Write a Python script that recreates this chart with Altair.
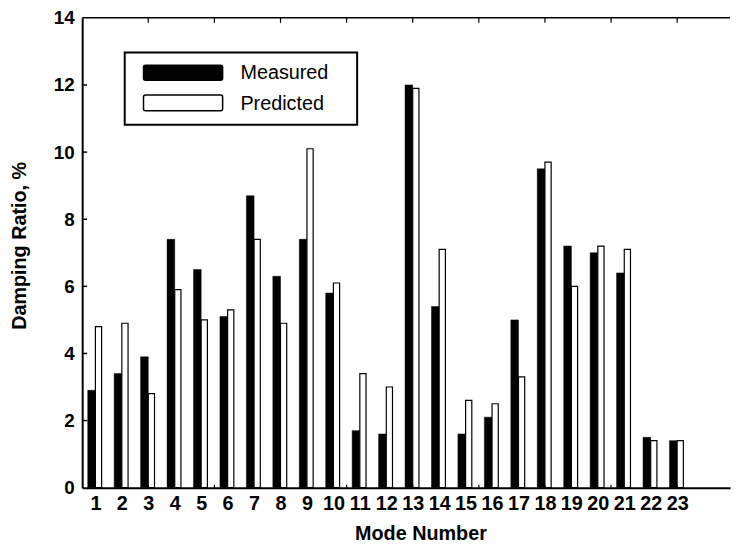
import altair as alt
import pandas as pd

# ---- data ----
modes = list(range(1, 24))
measured = [2.9, 3.4, 3.9, 7.4, 6.5, 5.1, 8.7, 6.3, 7.4, 5.8, 1.7, 1.6, 12.0,
            5.4, 1.6, 2.1, 5.0, 9.5, 7.2, 7.0, 6.4, 1.5, 1.4]
predicted = [4.8, 4.9, 2.8, 5.9, 5.0, 5.3, 7.4, 4.9, 10.1, 6.1, 3.4, 3.0, 11.9,
             7.1, 2.6, 2.5, 3.3, 9.7, 6.0, 7.2, 7.1, 1.4, 1.4]
series_names = ["Measured", "Predicted"]
y_tick_values = [0, 2, 4, 6, 8, 10, 12, 14]
y_inner_ticks = [2, 4, 6, 8, 10, 12]
x_minor_ticks = [3.0, 5.5, 8.0, 10.5, 13.0, 15.5, 18.0, 20.5, 23.0]
x_domain = [0.5, 25.0]
y_domain = [0, 14]

W, H = 655, 475
FONT = "Liberation Sans"

df = pd.DataFrame({"mode": modes, "Measured": measured, "Predicted": predicted})

x_scale = alt.Scale(domain=x_domain, nice=False, zero=False)
y_scale = alt.Scale(domain=y_domain, nice=False)

x_axis = alt.Axis(
    title="Mode Number", values=modes, format="d", tickSize=0, labelPadding=6,
    labelFont=FONT, labelFontSize=20, labelFontWeight="bold", labelColor="black",
    labelOverlap=False, labelFlush=False, domainColor="black", domainWidth=2,
    grid=False, titleFont=FONT, titleFontSize=20, titleFontWeight="bold",
    titleColor="black", titleX=342, titleY=52, titleAlign="center",
    titleBaseline="alphabetic",
)
y_axis = alt.Axis(
    title="Damping Ratio, %", values=y_tick_values, tickSize=0, labelPadding=8,
    labelFont=FONT, labelFontSize=19, labelFontWeight="bold", labelColor="black",
    domainColor="black", domainWidth=2, grid=False, titleFont=FONT,
    titleFontSize=20, titleFontWeight="bold", titleColor="black",
    titleX=-63, titleY=230, titleAlign="center", titleBaseline="middle",
)

base = alt.Chart(df)

meas = base.transform_calculate(x0="datum.mode - 0.29").mark_rect(
    fill="black", stroke="black", strokeWidth=0.5
).encode(
    x=alt.X("x0:Q", scale=x_scale, axis=x_axis),
    x2="mode:Q",
    y=alt.Y("Measured:Q", scale=y_scale, axis=y_axis),
    y2=alt.datum(0),
)

pred = base.transform_calculate(x1="datum.mode + 0.235").mark_rect(
    fill="white", stroke="black", strokeWidth=1.2
).encode(
    x=alt.X("mode:Q", scale=x_scale, axis=x_axis),
    x2="x1:Q",
    y=alt.Y("Predicted:Q", scale=y_scale, axis=y_axis),
    y2=alt.datum(0),
)

one = pd.DataFrame({"k": [0]})

top_border = alt.Chart(one).mark_rule(color="black", strokeWidth=1.5).encode(
    x=alt.value(0), x2=alt.value(W), y=alt.value(0)
)

ytk = alt.Chart(pd.DataFrame({"y": y_inner_ticks})).mark_rule(
    color="black", strokeWidth=1.5
).encode(
    y=alt.Y("y:Q", scale=y_scale, axis=y_axis), x=alt.value(0), x2=alt.value(5)
)

xm = pd.DataFrame({"x": x_minor_ticks})
xtk_top = alt.Chart(xm).mark_rule(color="black", strokeWidth=1.2).encode(
    x=alt.X("x:Q", scale=x_scale, axis=x_axis), y=alt.value(0), y2=alt.value(5)
)
xtk_bot = alt.Chart(xm).mark_rule(color="black", strokeWidth=1.2).encode(
    x=alt.X("x:Q", scale=x_scale, axis=x_axis), y=alt.value(H - 3), y2=alt.value(H)
)

# ---- legend (drawn as a boxed key) ----
leg_df = pd.DataFrame({"series": series_names})
legend_box = alt.Chart(one).mark_rect(fill="white", stroke="black", strokeWidth=2).encode(
    x=alt.value(43), x2=alt.value(278), y=alt.value(35), y2=alt.value(108)
)
sw_fill = {"Measured": "black", "Predicted": "white"}
sw_y = {"Measured": (48, 63), "Predicted": (78, 94)}
txt_y = {"Measured": 62, "Predicted": 93}
legend_layers = []
for s in series_names:
    sub = alt.Chart(leg_df).transform_filter(alt.datum.series == s)
    legend_layers.append(
        sub.mark_rect(fill=sw_fill[s], stroke="black", strokeWidth=1.5, cornerRadius=2).encode(
            x=alt.value(62), x2=alt.value(142),
            y=alt.value(sw_y[s][0]), y2=alt.value(sw_y[s][1]),
        )
    )
    legend_layers.append(
        sub.mark_text(font=FONT, fontSize=20, color="black", align="left",
                      baseline="alphabetic").encode(
            x=alt.value(160), y=alt.value(txt_y[s]), text="series:N"
        )
    )

chart = alt.layer(
    meas, pred, top_border, ytk, xtk_top, xtk_bot, legend_box, *legend_layers
).properties(
    width=W, height=H,
    padding={"left": 75, "top": 7, "right": 3, "bottom": 56},
    autosize=alt.AutoSizeParams(type="none"),
    background="white",
).configure_view(stroke=None)

chart.save("out.html", embed_options={"renderer": "svg", "actions": False})
